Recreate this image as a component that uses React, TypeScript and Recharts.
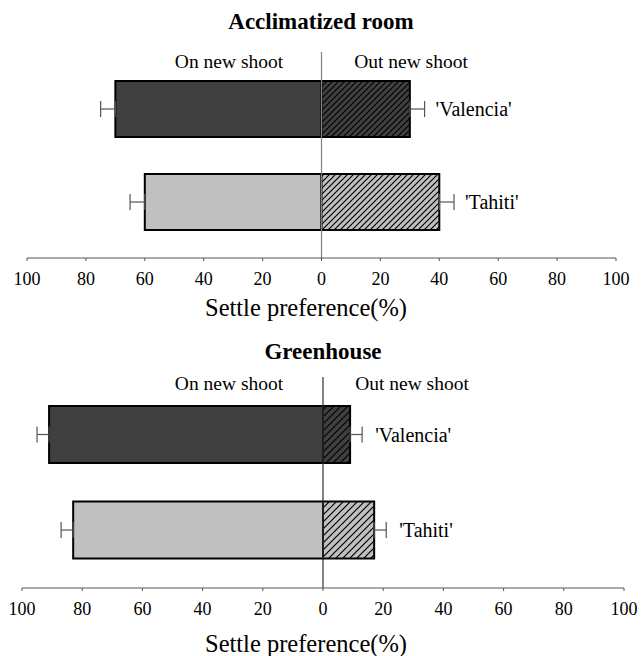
import { BarChart, Bar, XAxis, YAxis, Cell, ErrorBar, ReferenceLine, LabelList } from 'recharts'

const varieties = ["'Valencia'", "'Tahiti'"]
const tickValues = [-100, -80, -60, -40, -20, 0, 20, 40, 60, 80, 100]

// Acclimatized room
const roomOn = [70, 60]
const roomOut = [30, 40]
const roomOnErr = [5, 5]
const roomOutErr = [5, 5]

// Greenhouse
const greenOn = [91, 83]
const greenOut = [9, 17]
const greenOnErr = [4, 4]
const greenOutErr = [4, 4]

const serif = "Liberation Serif, serif"
const onFills = ['#404040', '#c0c0c0']

function buildRows(on: number[], out: number[], onErr: number[], outErr: number[]) {
  return varieties.map((name, i) => ({
    name,
    on: -on[i],
    out: out[i],
    onErr: [onErr[i], 0],
    outErr: [0, outErr[i]],
  }))
}

function Hatch({ id, bg, size }: { id: string; bg: string; size: number }) {
  return (
    <pattern id={id} patternUnits="userSpaceOnUse" width={size} height={size}>
      <rect width={size} height={size} fill={bg} />
      <path
        d={`M0,${size} L${size},0 M-1,1 L1,-1 M${size - 1},${size + 1} L${size + 1},${size - 1}`}
        stroke="#000"
        strokeWidth={1.2}
      />
    </pattern>
  )
}

interface PanelProps {
  prefix: string
  on: number[]
  out: number[]
  onErr: number[]
  outErr: number[]
  margin: { top: number; right: number; bottom: number; left: number }
  barSize: number
  hatch: number
  zeroColor: string
  labelGap: number
}

function Panel({ prefix, on, out, onErr, outErr, margin, barSize, hatch, zeroColor, labelGap }: PanelProps) {
  const rows = buildRows(on, out, onErr, outErr)

  const renderName = (props: any) => {
    const { x, y, width, height, index } = props
    const perUnit = width / out[index]
    const lx = x + width + outErr[index] * perUnit + labelGap
    return (
      <text x={lx} y={y + height / 2} dy="0.35em" fontSize={20} fontFamily={serif} fill="#000">
        {varieties[index]}
      </text>
    )
  }

  return (
    <BarChart
      width={641}
      height={300}
      layout="vertical"
      data={rows}
      margin={margin}
      barSize={barSize}
      barGap={-barSize}
    >
      <defs>
        <Hatch id={`${prefix}-dark`} bg="#404040" size={hatch} />
        <Hatch id={`${prefix}-light`} bg="#c0c0c0" size={hatch} />
      </defs>
      <XAxis
        type="number"
        domain={[-100, 100]}
        ticks={tickValues}
        tickFormatter={(v: number) => String(Math.abs(v))}
        axisLine={{ stroke: '#555' }}
        tickLine={{ stroke: '#555' }}
        tickSize={3}
        tickMargin={11}
        height={30}
        tick={{ fill: '#000', fontSize: 18, fontFamily: serif }}
      />
      <YAxis type="category" dataKey="name" hide padding={{ top: 10, bottom: 10 }} />
      <ReferenceLine x={0} stroke={zeroColor} strokeWidth={1.2} />
      <Bar dataKey="on" stroke="#000" strokeWidth={2} isAnimationActive={false}>
        {rows.map((_, i) => (
          <Cell key={i} fill={onFills[i]} />
        ))}
        <ErrorBar dataKey="onErr" direction="x" width={8} stroke="#555" strokeWidth={1.2} isAnimationActive={false} />
      </Bar>
      <Bar dataKey="out" stroke="#000" strokeWidth={2} isAnimationActive={false}>
        {rows.map((_, i) => (
          <Cell key={i} fill={i === 0 ? `url(#${prefix}-dark)` : `url(#${prefix}-light)`} />
        ))}
        <ErrorBar dataKey="outErr" direction="x" width={8} stroke="#555" strokeWidth={1.2} isAnimationActive={false} />
        <LabelList dataKey="out" content={renderName} />
      </Bar>
    </BarChart>
  )
}

function Text({ x, y, size, bold, children }: { x: number; y: number; size: number; bold?: boolean; children: string }) {
  return (
    <div
      style={{
        position: 'absolute',
        left: x - 200,
        top: y - size,
        width: 400,
        height: size * 2,
        lineHeight: `${size * 2}px`,
        textAlign: 'center',
        fontSize: size,
        fontWeight: bold ? 'bold' : 'normal',
        fontFamily: serif,
        color: '#000',
        whiteSpace: 'nowrap',
      }}
    >
      {children}
    </div>
  )
}

export default function App() {
  return (
    <div style={{ position: 'absolute', left: 0, top: 0, width: 641, height: 656, background: '#fff', overflow: 'hidden' }}>
      <div style={{ position: 'absolute', left: 0, top: 0 }}>
        <Panel
          prefix="room"
          on={roomOn}
          out={roomOut}
          onErr={roomOnErr}
          outErr={roomOutErr}
          margin={{ top: 52, right: 25, bottom: 12, left: 27 }}
          barSize={56}
          hatch={6}
          zeroColor="#808080"
          labelGap={11}
        />
      </div>
      <div style={{ position: 'absolute', left: 0, top: 320 }}>
        <Panel
          prefix="green"
          on={greenOn}
          out={greenOut}
          onErr={greenOnErr}
          outErr={greenOutErr}
          margin={{ top: 57, right: 17, bottom: 2, left: 22 }}
          barSize={57}
          hatch={7}
          zeroColor="#333"
          labelGap={13}
        />
      </div>
      <Text x={321} y={22} size={23} bold>Acclimatized room</Text>
      <Text x={229} y={61} size={19.5}>On new shoot</Text>
      <Text x={411} y={61} size={19.5}>Out new shoot</Text>
      <Text x={306} y={307} size={24.5}>Settle preference(%)</Text>
      <Text x={323} y={352} size={23} bold>Greenhouse</Text>
      <Text x={229} y={383} size={19.5}>On new shoot</Text>
      <Text x={412} y={383} size={19.5}>Out new shoot</Text>
      <Text x={306} y={643} size={24.5}>Settle preference(%)</Text>
    </div>
  )
}
